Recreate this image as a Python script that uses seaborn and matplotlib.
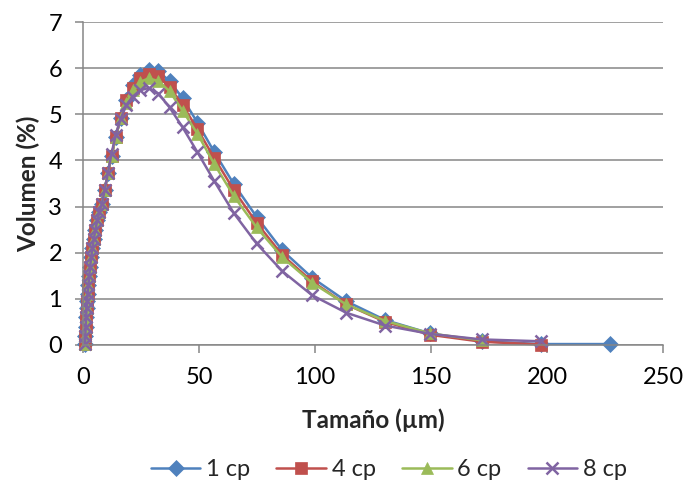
import matplotlib
matplotlib.use('Agg')
import matplotlib.pyplot as plt
import seaborn as sns

# Particle size (µm), log-spaced bins
x_size = [0.88, 1.01, 1.16, 1.34, 1.53, 1.76, 2.03, 2.33, 2.67, 3.07, 3.53, 4.05, 4.66,
          5.35, 6.15, 7.07, 8.1, 9.3, 10.7, 12.3, 14.1, 16.2, 18.7, 21.4, 24.6, 28.3,
          32.5, 37.3, 42.9, 49.3, 56.6, 65.1, 74.8, 85.9, 98.7, 113.4, 130.3, 149.7,
          172.0, 197.6, 227.0]

rise = [0.03, 0.2, 0.4, 0.6, 0.8, 0.95, 1.1, 1.3, 1.5, 1.7, 1.9, 2.1, 2.3,
        2.5, 2.7, 2.88, 3.05, 3.35, 3.72, 4.1, 4.5, 4.92]

vol_1cp = rise + [5.32, 5.63, 5.85, 5.97, 5.93, 5.72, 5.35, 4.82, 4.18, 3.48, 2.78,
                  2.05, 1.46, 0.95, 0.54, 0.25, 0.08, 0.02, 0.02]
vol_4cp = rise + [5.3, 5.58, 5.78, 5.88, 5.83, 5.6, 5.2, 4.68, 4.05, 3.35, 2.65,
                  1.95, 1.38, 0.88, 0.5, 0.22, 0.07, 0.01]
vol_6cp = rise + [5.25, 5.52, 5.7, 5.78, 5.72, 5.5, 5.08, 4.58, 3.92, 3.22, 2.55,
                  1.9, 1.35, 0.88, 0.52, 0.25, 0.1]
vol_8cp = rise[:19] + [4.15, 4.55, 4.9, 5.2, 5.38, 5.52, 5.57, 5.45, 5.15, 4.72,
                       4.18, 3.55, 2.85, 2.2, 1.6, 1.08, 0.7, 0.42, 0.24, 0.12, 0.08]

series_names = ['1 cp', '4 cp', '6 cp', '8 cp']
series_vals = [vol_1cp, vol_4cp, vol_6cp, vol_8cp]
colors = ['#4F81BD', '#C0504D', '#9BBB59', '#8064A2']
markers = ['D', 's', '^', 'x']
msizes = [8, 8, 9, 8]

sns.set_theme(style='white')
plt.rcParams['font.family'] = ['Lato', 'DejaVu Sans']

fig = plt.figure(figsize=(6.86, 4.87), dpi=100)
ax = fig.add_axes([0.121, 0.2916, 0.8455, 0.6632])

for name, vals, c, m, ms in zip(series_names, series_vals, colors, markers, msizes):
    xs = x_size[:len(vals)]
    sns.lineplot(x=xs, y=vals, ax=ax, color=c, marker=m, markersize=ms,
                 markeredgecolor=c, markeredgewidth=1.8 if m == 'x' else 0.5,
                 linewidth=1.8, label=name, sort=False, estimator=None, clip_on=False)

ax.set_xlim(0, 250)
ax.set_ylim(0, 7)
ax.set_xticks([0, 50, 100, 150, 200, 250])
ax.set_yticks(range(0, 8))
ax.yaxis.grid(True, color='#868686', linewidth=1.1)
ax.xaxis.grid(False)
ax.set_axisbelow(True)
for s in ['top', 'right']:
    ax.spines[s].set_visible(False)
for s in ['left', 'bottom']:
    ax.spines[s].set_color('#868686')
    ax.spines[s].set_linewidth(1.1)
ax.tick_params(axis='both', which='both', bottom=True, left=True, direction='out',
               length=6, width=1.1, color='#868686', labelsize=17, labelcolor='black')
ax.tick_params(axis='x', pad=10)
ax.tick_params(axis='y', pad=9)

ax.set_xlabel('Tamaño (µm)', fontsize=17.5, fontweight='bold')
ax.set_ylabel('Volumen (%)', fontsize=17.5, fontweight='bold')
ax.xaxis.set_label_coords(0.5 * (373 - 83) / 290, (345 - 420) / 323)
ax.xaxis.label.set_va('center')
ax.yaxis.set_label_coords((28 - 83) / 580, 0.5)
ax.yaxis.label.set_va('center')

ax.legend(loc='center', bbox_to_anchor=(0.567, 0.035), bbox_transform=fig.transFigure,
          ncol=4, frameon=False, fontsize=17, handlelength=2.1, columnspacing=1.1,
          handletextpad=0.25, borderaxespad=0)

fig.savefig('out.png', dpi=100)
